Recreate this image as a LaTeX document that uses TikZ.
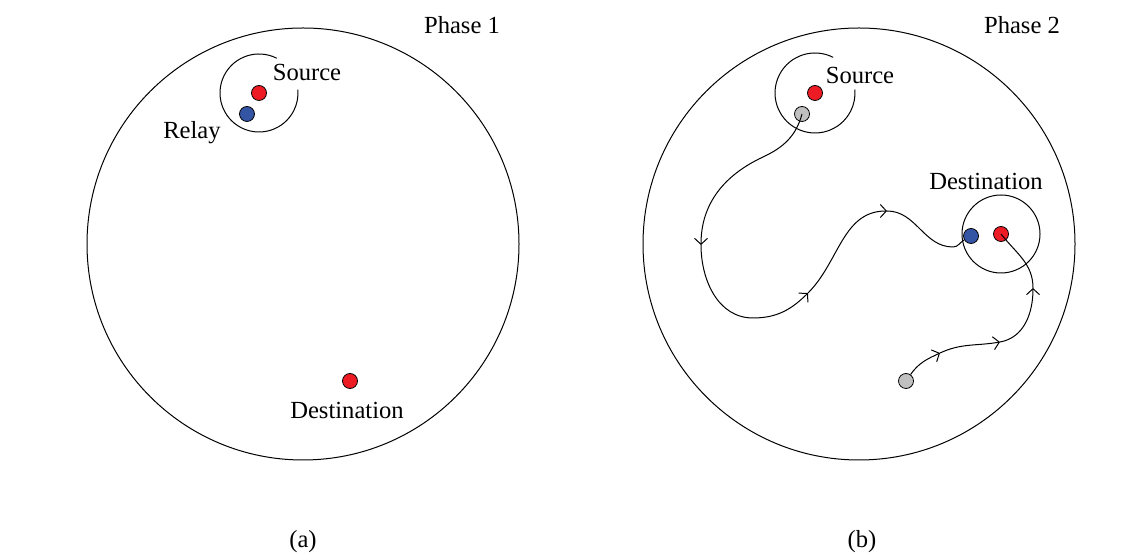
\documentclass[tikz,border=0pt]{standalone}
\usepackage{fontspec}
\setmainfont{Liberation Serif}
\usetikzlibrary{arrows.meta}

\definecolor{srcred}{RGB}{237,28,36}
\definecolor{relayblue}{RGB}{52,84,164}
\definecolor{idlegray}{RGB}{192,192,192}

\begin{document}
\begin{tikzpicture}[x=0.5pt,y=0.5pt,line width=0.5pt,
    dot/.style={circle,draw,line width=0.4pt,minimum size=7.5pt,inner sep=0pt},
    txt/.style={font=\fontsize{12.3}{14}\selectfont,inner sep=1pt},
    barb/.tip={Straight Barb[length=3pt,width=6.5pt,line width=0.5pt]}]
  \useasboundingbox (0,0) rectangle (1145,556);

  % (a) phase 1
  \coordinate (ca) at (303,312);
  \draw (ca) circle[radius=216];
  \node[dot,fill=srcred]    (s1) at (259,463) {};
  \node[dot,fill=relayblue] (r1) at (247,442) {};
  \node[dot,fill=srcred]    (d1) at (350,175) {};
  \draw ([shift={(63:39)}]s1.center) arc[start angle=63,end angle=365,radius=39];
  \node[txt] at (307,484) {Source};
  \node[txt] at (192,423) {Relay};
  \node[txt] at (347,146) {Destination};
  \node[txt] at (462,531) {Phase 1};
  \node[txt] at (303,14) {(a)};

  % (b) phase 2
  \coordinate (cb) at (859,312);
  \draw (cb) circle[radius=216];
  \node[dot,fill=srcred]    (s2) at (815,463) {};
  \node[dot,fill=idlegray]  (r2) at (802,442) {};
  \node[dot,fill=srcred]    (d2) at (1001,322) {};
  \node[dot,fill=relayblue] (b2) at (971,320) {};
  \node[dot,fill=idlegray]  (g2) at (906,175) {};
  \draw ([shift={(63:40)}]s2.center) arc[start angle=63,end angle=365,radius=40];
  \draw (d2) circle[radius=39];
  \node[txt] at (860,481) {Source};
  \node[txt] at (986,375) {Destination};
  \node[txt] at (1022,531) {Phase 2};
  \node[txt] at (862,14) {(b)};

  % relay route
  \coordinate (k0) at (763,399);
  \coordinate (k1) at (701,311);
  \coordinate (k2) at (753,238);
  \coordinate (k3) at (808,263);
  \coordinate (k4) at (887,345);
  \coordinate (k5) at (953,309);
  \draw[-barb] (r2.center) to[out=-105,in=25] (k0) to[out=205,in=90] (k1);
  \draw[-barb] (k1) to[out=-90,in=180] (k2) to[out=0,in=-135] (k3);
  \draw[-barb] (k3) to[out=45,in=180] (k4);
  \draw (k4) to[out=0,in=180] (k5) to[out=0,in=-150] (b2);

  % second route
  \coordinate (m1) at (940,203);
  \coordinate (m2) at (1000,214);
  \coordinate (m3) at (1033,268);
  \draw[-barb] (g2) to[out=55,in=205] (m1);
  \draw[-barb] (m1) to[out=25,in=190] (m2);
  \draw[-barb] (m2) to[out=10,in=-90] (m3);
  \draw (m3) to[out=90,in=-52] (d2.center);
\end{tikzpicture}
\end{document}
